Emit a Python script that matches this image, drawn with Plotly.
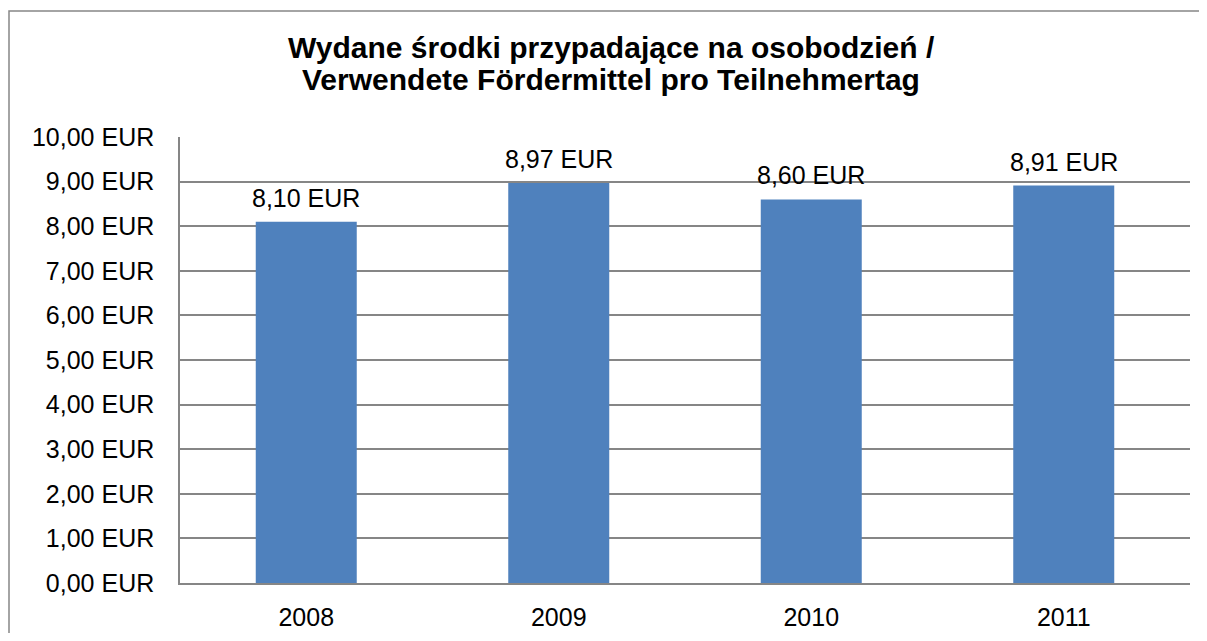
import plotly.graph_objects as go

years = ["2008", "2009", "2010", "2011"]
values = [8.10, 8.97, 8.60, 8.91]
title_lines = ["Wydane środki przypadające na osobodzień /",
               "Verwendete Fördermittel pro Teilnehmertag"]

bar_color = "#4F81BD"
grid_color = "#868686"
font_family = "Liberation Sans, Arial, sans-serif"

labels = [f"{v:.2f}".replace(".", ",") + " EUR" for v in values]

# page body has an 8px margin on every side: keep the figure inside it
OFF = 8
PAGE_W, PAGE_H = 1207, 641
W, H = PAGE_W - 2 * OFF, PAGE_H - 2 * OFF
plot_left, plot_right, plot_top, plot_bottom = 180, 1190, 137, 583
L, R = plot_left - OFF, (OFF + W) - plot_right
T, B = plot_top - OFF, (OFF + H) - plot_bottom
pw, ph = W - L - R, H - T - B

def px_x(x):
    return (x - plot_left) / pw

def px_y(y):
    return (plot_bottom - y) / ph

fig = go.Figure()
fig.add_trace(go.Bar(
    x=years, y=values, width=0.4,
    marker=dict(color=bar_color, line=dict(width=0)),
    hoverinfo="skip",
))

for i, (v, lab) in enumerate(zip(values, labels)):
    fig.add_annotation(x=i, y=v, xref="x", yref="y", text=lab, showarrow=False,
                       yanchor="bottom", yshift=8,
                       font=dict(family=font_family, size=25, color="#000000"))

# title, two lines placed separately to get the tight line spacing
for line, cy in zip(title_lines, [48, 80]):
    fig.add_annotation(xref="paper", yref="paper", x=px_x(611), y=px_y(cy),
                       xanchor="center", yanchor="middle", showarrow=False,
                       text="<b>" + line + "</b>",
                       font=dict(family=font_family, size=30, color="#000000"))

fig.add_shape(type="rect", xref="paper", yref="paper",
              x0=px_x(9), x1=px_x(PAGE_W + 20), y0=px_y(PAGE_H + 20), y1=px_y(11),
              line=dict(color=grid_color, width=1.5), layer="below")

fig.update_layout(
    width=W, height=H,
    margin=dict(l=L, r=R, t=T, b=B, autoexpand=False),
    paper_bgcolor="white", plot_bgcolor="white",
    separators=",.",
    showlegend=False,
    font=dict(family=font_family, size=25, color="#000000"),
    xaxis=dict(type="category", categoryorder="array", categoryarray=years,
               range=[-0.5, len(years) - 0.5], automargin=False,
               showline=True, linecolor=grid_color,
               linewidth=1.5, showgrid=False, ticks="",
               ticklabelstandoff=11, tickfont=dict(size=25)),
    yaxis=dict(range=[0, 10], dtick=1, tick0=0, tickformat=".2f",
               ticksuffix=" EUR", showline=True, linecolor=grid_color,
               linewidth=1.5, showgrid=True, gridcolor=grid_color,
               gridwidth=1.5, zeroline=False, ticks="", automargin=False,
               ticklabelstandoff=19, tickfont=dict(size=25)),
)

fig.write_html("out.html")
